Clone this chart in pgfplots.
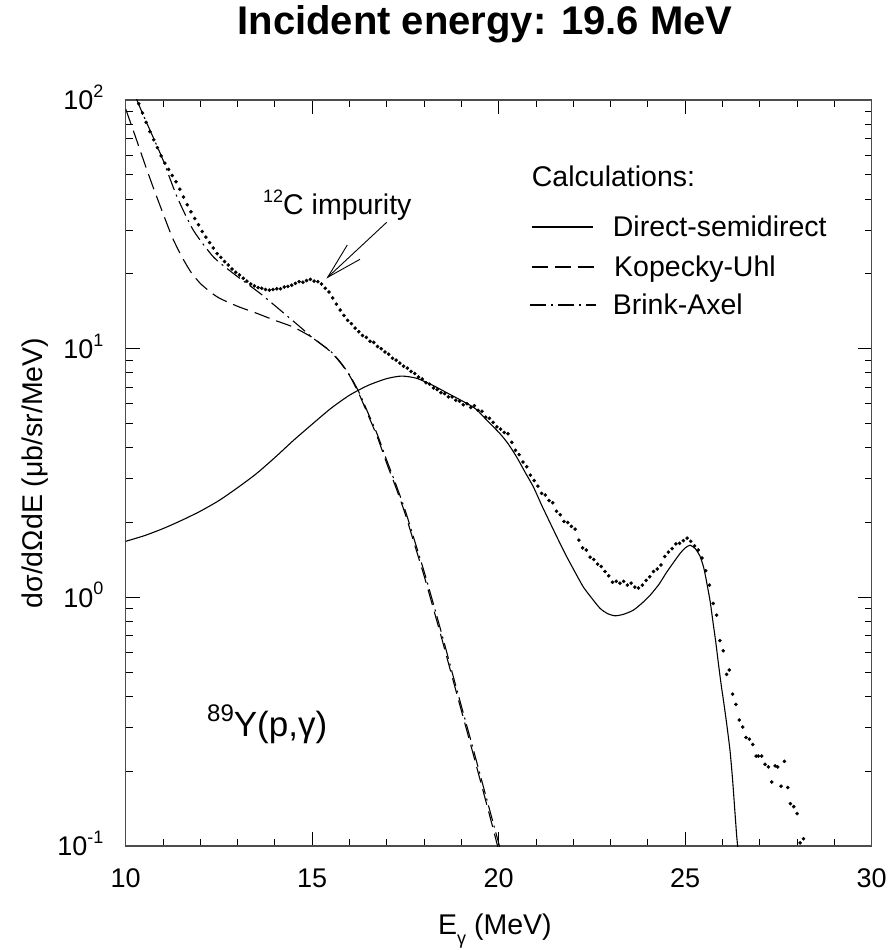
\documentclass[border=0pt]{standalone}
\usepackage{fontspec}
\setmainfont{Liberation Sans}
\usepackage{pgfplots}
\pgfplotsset{compat=1.18}
\newcommand\sups[1]{\raisebox{0.45em}{\fontsize{18}{18}\selectfont #1}}
\begin{document}
\begin{tikzpicture}[x=1pt,y=1pt]
\path[use as bounding box] (0pt,0pt) rectangle (895pt,950pt);
\begin{axis}[
 at={(125.7pt,104pt)}, anchor=south west,
 width=746pt, height=746pt, scale only axis,
 xmin=10, xmax=30, ymin=0.1, ymax=100, ymode=log,
 xtick={10,15,20,25,30}, minor x tick num=4,
 xticklabels={10,15,20,25,30},
 ytick={0.1,1,10,100},
 yticklabels={10\sups{-1},10\sups{0},10\sups{1},10\sups{2}},
 tick align=inside,
 major tick length=14pt, minor tick length=7pt,
 tick style={black, line width=0.9pt},
 axis line style={black!70, line width=1.2pt},
 ticklabel style={font=\fontsize{27}{32}\selectfont, inner sep=0pt},
 xticklabel style={anchor=base, yshift=-41pt},
 yticklabel style={anchor=base east, xshift=-22pt, yshift=-9.7pt},
 xlabel={E\raisebox{-0.32em}{\fontsize{18}{18}\selectfont γ} (MeV)},
 xlabel style={at={(axis description cs:0.495,-0.1193)}, anchor=base, font=\fontsize{28.5}{34}\selectfont, inner sep=0pt},
 ylabel={dσ/dΩdE (μb/sr/MeV)},
 ylabel style={at={(axis description cs:-0.1109,0.5)}, anchor=base, font=\fontsize{28.5}{34}\selectfont, inner sep=0pt},
 title={Incident energy: 19.6 MeV},
 title style={at={(axis description cs:0.4816,1.0791)}, anchor=base, font=\fontsize{40}{48}\selectfont\bfseries, inner sep=0pt},
]
% experimental data
\addplot[only marks, mark=*, mark size=1.6pt, black] coordinates {
(10.35,96.6)(10.45,88.7)(10.55,81.3)(10.65,74.6)(10.75,69.2)(10.85,64.3)(10.95,59.6)
(11.05,55.7)(11.15,52.6)(11.25,49.7)(11.35,46.9)(11.45,43.8)(11.55,40.7)(11.65,37.9)
(11.75,35.5)(11.85,33.4)(11.95,31.5)(12.05,29.6)(12.15,28.1)(12.25,26.7)(12.35,25.4)
(12.45,24.1)(12.55,23.3)(12.65,22.4)(12.75,21.7)(12.85,20.9)(12.95,20.3)(13.05,19.8)
(13.15,19.2)(13.25,18.7)(13.35,18.2)(13.45,17.9)(13.55,17.6)(13.65,17.5)(13.75,17.3)
(13.85,17.2)(13.95,17.3)(14.05,17.4)(14.15,17.4)(14.25,17.7)(14.35,17.8)(14.45,18.0)
(14.55,18.3)(14.65,18.6)(14.75,18.5)(14.85,18.8)(14.95,19.0)(15.05,18.7)(15.15,18.6)
(15.25,18.2)(15.35,17.5)(15.45,16.9)(15.55,16.0)(15.65,15.1)(15.75,14.3)(15.85,13.6)
(15.95,13.0)(16.05,12.6)(16.15,12.1)(16.25,11.7)(16.35,11.3)(16.45,11.1)(16.55,10.7)
(16.65,10.6)(16.75,10.2)(16.85,10.0)(16.95,9.7)(17.05,9.5)(17.15,9.15)(17.25,9.0)
(17.35,8.75)(17.45,8.5)(17.55,8.35)(17.65,8.1)(17.75,7.95)(17.85,7.7)(17.95,7.55)
(18.05,7.3)(18.15,7.2)(18.25,6.95)(18.35,6.85)(18.45,6.65)(18.55,6.6)(18.65,6.4)
(18.75,6.4)(18.85,6.2)(18.95,6.15)(19.05,5.95)(19.15,6.0)(19.25,5.8)(19.35,5.9)
(19.45,5.65)(19.55,5.6)(19.65,5.3)(19.75,5.25)(19.85,5.05)(19.95,4.85)(20.05,4.75)
(20.15,4.6)(20.25,4.55)(20.35,4.2)(20.45,3.9)(20.55,3.75)(20.65,3.5)(20.75,3.35)
(20.85,3.1)(20.95,2.95)(21.05,2.8)(21.15,2.62)(21.25,2.58)(21.35,2.45)(21.45,2.4)
(21.55,2.22)(21.65,2.15)(21.75,2.02)(21.85,2.0)(21.95,1.93)(22.05,1.88)(22.15,1.70)
(22.25,1.58)(22.35,1.55)(22.45,1.45)(22.55,1.42)(22.65,1.36)(22.75,1.33)(22.85,1.27)
(22.95,1.22)(23.05,1.15)(23.15,1.16)(23.25,1.14)(23.35,1.16)(23.45,1.12)(23.55,1.14)
(23.65,1.10)(23.75,1.09)(23.85,1.12)(23.95,1.17)(24.05,1.21)(24.15,1.27)(24.25,1.30)
(24.35,1.35)(24.45,1.46)(24.55,1.52)(24.65,1.57)(24.75,1.64)(24.85,1.65)(24.95,1.69)
(25.05,1.73)(25.15,1.68)(25.25,1.61)(25.35,1.55)(25.45,1.44)(25.55,1.28)(25.65,1.12)
(25.75,0.945)(25.84,0.848)(25.93,0.67)(26.02,0.61)(26.11,0.49)(26.18,0.51)(26.27,0.408)
(26.36,0.371)(26.45,0.321)(26.54,0.301)(26.63,0.273)(26.72,0.269)(26.81,0.256)(26.90,0.23)
(26.96,0.23)(27.05,0.23)(27.14,0.213)(27.23,0.208)(27.32,0.181)(27.41,0.21)(27.48,0.208)
(27.57,0.174)(27.66,0.219)(27.75,0.172)(27.82,0.148)(27.91,0.144)(28.0,0.135)(28.08,0.103)
(28.17,0.107)
};
% Direct-semidirect
\addplot[black, line width=1.1pt, smooth, tension=0.4] coordinates {
(10.0,1.68)(10.5,1.77)(11.0,1.89)(11.5,2.04)(12.0,2.22)(12.5,2.45)(13.0,2.76)(13.5,3.14)
(14.0,3.65)(14.5,4.28)(15.0,4.97)(15.5,5.75)(16.0,6.5)(16.5,7.12)(17.0,7.58)
(17.4,7.76)(17.8,7.6)(18.25,7.1)(18.69,6.55)(19.14,6.03)(19.4,5.7)(19.68,5.16)(20.03,4.56)
(20.25,4.15)(20.48,3.67)(20.7,3.2)(20.93,2.78)(21.15,2.35)(21.38,1.99)(21.6,1.7)(21.82,1.46)
(22.05,1.26)(22.27,1.10)(22.5,0.99)(22.72,0.902)(22.92,0.86)(23.12,0.843)(23.35,0.855)
(23.61,0.888)(23.85,0.95)(24.06,1.02)(24.3,1.13)(24.5,1.26)(24.7,1.39)(24.86,1.50)(25.0,1.58)
(25.13,1.62)(25.27,1.57)(25.4,1.46)(25.5,1.31)(25.58,1.14)(25.67,0.96)(25.75,0.785)
(25.82,0.66)(25.89,0.542)(25.96,0.45)(26.02,0.39)(26.1,0.32)(26.2,0.243)(26.27,0.185)
(26.33,0.139)(26.38,0.11)(26.42,0.095)
};
% Kopecky-Uhl
\addplot[black, line width=1.1pt, dash pattern=on 16pt off 7pt, smooth, tension=0.4] coordinates {
(10.0,92)(10.25,72)(10.5,56)(10.75,44)(11.0,35)(11.25,28)(11.5,23.5)(11.75,20.3)(12.0,18.3)
(12.25,17.0)(12.5,16.0)(13.0,14.8)(13.5,13.9)(14.0,13.0)(14.5,12.2)(15.0,11.1)(15.25,10.4)
(15.5,9.7)(15.75,8.8)(16.0,7.8)(16.25,6.6)(16.5,5.4)(16.75,4.4)(17.0,3.45)(17.25,2.75)
(17.5,2.15)(17.75,1.62)(18.0,1.22)(18.25,0.9)(18.5,0.66)(18.75,0.48)(19.0,0.35)(19.25,0.255)
(19.5,0.185)(19.75,0.134)(19.97,0.1)(20.0,0.096)
};
% Brink-Axel
\addplot[black, line width=1.1pt, dash pattern=on 16pt off 5pt on 2pt off 5pt, smooth, tension=0.4] coordinates {
(10.0,130)(10.3,100)(10.5,85)(10.65,75.7)(11.0,57.4)(11.37,41)(11.81,30)(12.35,23.4)
(12.88,20.1)(13.6,16.7)(14.14,14.3)(14.67,12.25)(15.03,11.0)(15.25,10.4)(15.5,9.75)
(15.75,8.85)(16.0,7.85)(16.25,6.7)(16.5,5.5)(16.75,4.5)(17.0,3.55)(17.25,2.83)(17.5,2.22)
(17.75,1.68)(18.0,1.27)(18.25,0.94)(18.5,0.69)(18.75,0.5)(19.0,0.365)(19.25,0.267)
(19.5,0.194)(19.75,0.141)(20.02,0.1)(20.05,0.096)
};
\end{axis}
% legend
\begin{scope}[every node/.style={anchor=base west, inner sep=0pt, font=\fontsize{28.5}{34}\selectfont}]
\node at (531.7pt,763pt) {Calculations:};
\draw[line width=1.1pt] (531.7pt,723pt) -- (593pt,723pt);
\node at (612.7pt,713pt) {Direct-semidirect};
\draw[line width=1.1pt, dash pattern=on 16pt off 7pt] (531.7pt,683pt) -- (596.7pt,683pt);
\node at (614pt,673pt) {Kopecky-Uhl};
\draw[line width=1.1pt, dash pattern=on 16pt off 5pt on 2pt off 5pt] (530pt,645pt) -- (596pt,645pt);
\node at (612.7pt,635pt) {Brink-Axel};
\node at (263pt,735pt) {\sups{12}C impurity};
\node[font=\fontsize{35}{40}\selectfont] at (207pt,213pt) {\raisebox{15pt}{\fontsize{24}{24}\selectfont 89}Y(p,γ)};
\end{scope}
% arrow annotation
\draw[line width=0.9pt] (386.7pt,727.7pt) -- (327.7pt,672.7pt);
\draw[line width=0.9pt] (347.3pt,705pt) -- (327.7pt,672.7pt) -- (360pt,690.7pt);
\end{tikzpicture}
\end{document}
